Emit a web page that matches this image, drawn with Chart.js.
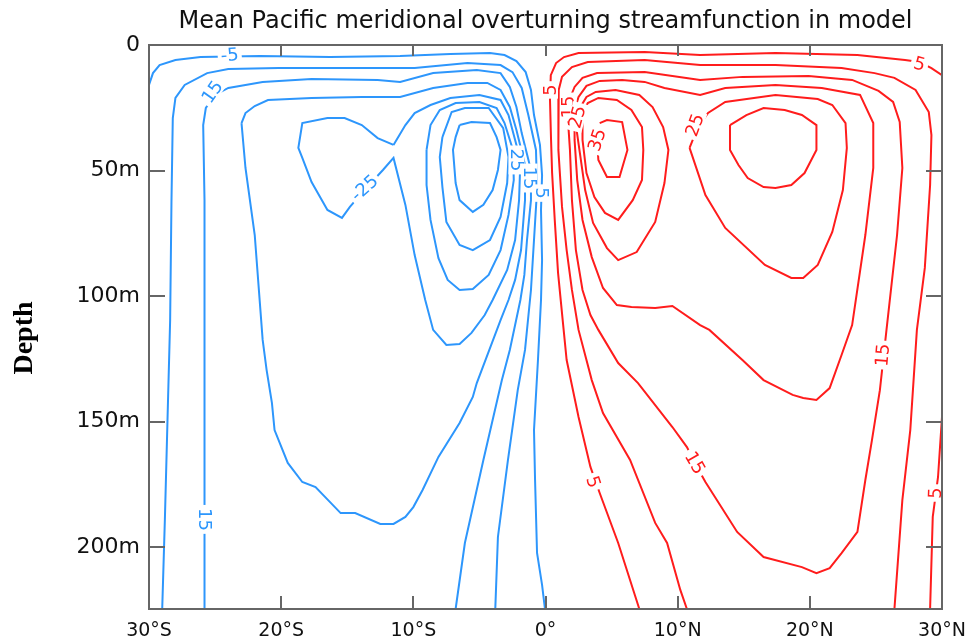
<!DOCTYPE html>
<html>
<head>
<meta charset="utf-8">
<script src="https://cdn.jsdelivr.net/npm/chart.js@4.4.0/dist/chart.umd.min.js"></script>
<style>
  html, body { margin: 0; padding: 0; background: #fff; }
</style>
</head>
<body>
<canvas id="myChart" width="966" height="641"></canvas>
<script>
// axis ticks
const xTicks = [-30, -20, -10, 0, 10, 20, 30];
const yTicks = [0, 50, 100, 150, 200];
const depthMax = 224.7;

// contour lines, [latitude, depth in m]
// blue = negative streamfunction (southern cell)
const blueM5 = [[-30,15.9],[-29.7,11.2],[-29.2,8.0],[-28.0,6.0],[-26.1,4.8],[-21.6,4.4],[-16.3,4.8],[-11.0,4.4],[-7.2,3.6],[-4.2,3.2],[-3.1,4.0],[-2.2,6.4],[-1.5,10.8],[-1.1,17.9],[-0.87,27.9],[-0.42,39.8],[-0.26,51.8],[-0.34,65.7],[-0.26,85.7],[-0.34,101.6],[-0.57,125.5],[-0.87,153.4],[-0.79,173.3],[-0.64,202.4],[-0.26,215.1],[-0.04,224.7]];
const blueM10 = [[-29.0,224.7],[-28.8,189.2],[-28.6,149.4],[-28.4,109.6],[-28.3,62.5],[-28.2,29.1],[-28.0,21.1],[-27.3,15.9],[-25.6,11.2],[-24.0,9.6],[-20.2,9.2],[-15.2,9.2],[-9.9,9.2],[-5.9,7.2],[-3.4,8.0],[-2.5,10.8],[-1.8,17.1],[-1.3,27.9],[-0.72,41.8],[-0.64,57.8],[-0.87,77.7],[-1.1,97.6],[-1.55,121.5],[-2.1,137.5],[-2.84,165.3],[-3.6,196.0],[-3.8,224.7]];
const blueM15 = [[-25.8,224.7],[-25.8,197.2],[-25.8,173.3],[-25.8,136.3],[-25.8,109.6],[-25.8,61.8],[-25.9,31.9],[-25.7,25.1],[-25.0,19.9],[-24.0,17.1],[-21.4,14.7],[-17.7,13.5],[-12.7,13.9],[-11.0,14.7],[-8.5,11.2],[-5.2,10.0],[-3.4,11.2],[-2.7,16.7],[-2.2,24.7],[-1.8,35.1],[-1.1,49.8],[-1.1,61.8],[-1.4,77.7],[-1.6,91.6],[-1.9,101.6],[-2.7,121.5],[-3.3,133.5],[-4.7,165.3],[-6.1,198.4],[-6.8,224.7]];
const blueM20 = [[-23.0,31.1],[-22.7,27.1],[-22.0,24.3],[-21.0,21.9],[-17.7,21.1],[-13.9,20.7],[-11.0,20.7],[-8.5,17.1],[-5.9,15.1],[-4.4,15.1],[-3.4,17.9],[-2.7,24.7],[-2.2,33.9],[-1.55,47.8],[-1.55,61.8],[-1.85,81.7],[-2.3,93.6],[-2.8,101.6],[-3.4,109.6],[-5.2,134.7],[-5.5,140.2],[-6.5,150.6],[-8.1,164.1],[-9.3,177.3],[-10.0,184.1],[-10.6,188.0],[-11.5,190.8],[-12.5,190.8],[-14.4,186.5],[-15.5,186.5],[-17.4,176.1],[-18.4,174.1],[-19.5,166.5],[-20.5,153.4],[-20.7,142.6],[-21.1,129.5],[-21.4,117.5],[-22.0,75.7],[-22.7,49.0],[-23.0,31.1]];
const blueM25 = [[-11.5,39.8],[-10.6,31.9],[-9.9,27.1],[-8.7,23.9],[-7.2,21.1],[-5.0,19.9],[-3.4,21.9],[-2.8,27.9],[-2.4,35.9],[-1.9,45.8],[-2.0,61.8],[-2.3,77.7],[-2.9,89.6],[-4.0,101.6],[-4.6,107.6],[-5.6,114.7],[-6.5,119.1],[-7.5,119.5],[-8.5,113.5],[-9.1,101.6],[-9.9,83.7],[-10.6,63.7],[-11.5,45.0],[-12.3,49.8],[-13.7,57.8],[-14.8,64.5],[-15.4,68.9],[-16.5,65.7],[-17.7,54.6],[-18.4,45.0],[-18.7,41.0],[-18.4,31.1],[-16.5,29.1],[-15.2,29.1],[-13.9,31.9],[-12.7,37.1],[-11.5,39.8]];
const blueM30 = [[-9.0,41.8],[-8.7,31.9],[-8.0,25.9],[-6.8,23.1],[-5.0,22.7],[-3.7,25.1],[-3.1,31.1],[-2.46,41.8],[-2.4,53.8],[-2.8,67.7],[-3.4,81.7],[-4.3,91.6],[-5.5,97.2],[-6.5,97.6],[-7.4,93.6],[-8.1,84.9],[-8.7,69.7],[-9.0,55.8],[-9.0,41.8]];
const blueM35 = [[-7.8,36.7],[-7.1,26.7],[-6.1,25.1],[-4.3,25.1],[-3.2,33.1],[-2.8,44.6],[-2.9,55.0],[-3.4,68.5],[-4.2,77.7],[-5.5,81.7],[-6.5,79.7],[-7.5,70.5],[-7.8,56.6],[-8.0,44.6],[-7.8,36.7]];
const blueM40 = [[-6.5,31.9],[-5.6,30.7],[-4.2,31.1],[-3.7,36.7],[-3.4,41.8],[-3.6,49.8],[-4.0,57.8],[-4.7,63.7],[-5.5,66.5],[-6.5,61.8],[-6.8,55.0],[-7.0,41.8],[-6.8,36.7],[-6.5,31.9]];

// red = positive streamfunction (northern cell)
const red5 = [[30,12.0],[29.2,9.2],[28.3,6.8],[27.2,6.0],[23.6,4.0],[17.4,3.2],[11.7,4.0],[7.5,2.8],[2.5,3.2],[1.4,4.8],[0.8,7.2],[0.4,12.0],[0.34,21.9],[0.42,37.8],[0.5,51.0],[0.7,69.7],[0.95,90.8],[1.3,109.6],[1.6,125.5],[2.5,148.2],[3.4,168.1],[4.1,178.5],[5.5,198.4],[7.1,224.7]];
const red5b = [[30,148.2],[29.7,172.1],[29.3,188.0],[29.1,224.7]];
const red10 = [[26.4,224.7],[27.0,181.3],[27.6,153.4],[28.1,113.5],[28.7,88.8],[29.1,55.8],[29.2,35.9],[29.0,26.7],[28.0,17.9],[26.4,13.1],[24.9,11.2],[22.4,9.2],[17.4,8.0],[11.7,8.0],[7.5,6.0],[3.2,6.8],[2.0,8.8],[1.25,12.7],[1.0,17.9],[0.95,25.9],[1.0,41.8],[1.25,64.5],[1.6,81.7],[2.0,97.6],[2.5,113.5],[3.5,133.5],[4.35,146.6],[6.4,165.3],[8.3,190.4],[9.2,198.4],[10.2,217.1],[10.7,224.7]];
const red15 = [[1.7,29.9],[1.8,21.9],[2.2,16.7],[2.8,13.1],[3.9,11.2],[7.5,10.8],[11.7,13.9],[14.9,12.7],[19.9,12.4],[23.2,13.9],[25.2,18.3],[26.3,22.7],[26.8,30.7],[27.0,49.0],[26.6,75.7],[25.8,113.5],[25.3,137.5],[24.7,157.4],[24.2,173.3],[23.6,194.0],[22.4,202.4],[21.5,208.4],[20.5,210.4],[19.4,208.0],[16.5,204.0],[14.5,194.0],[12.1,174.1],[11.3,166.5],[10.7,160.2],[9.6,152.2],[7.0,134.7],[5.5,126.7],[4.0,113.5],[3.4,107.6],[2.8,97.6],[2.3,81.7],[2.0,61.8],[1.85,41.8],[1.7,29.9]];
const red20 = [[2.2,25.9],[2.5,20.7],[3.1,16.3],[4.1,14.3],[5.8,13.9],[7.5,14.7],[9.0,17.1],[11.7,19.9],[13.6,17.1],[17.4,15.9],[20.9,17.1],[23.8,19.9],[24.8,31.1],[24.8,49.0],[24.2,75.7],[23.2,111.6],[22.4,123.5],[21.5,136.7],[20.5,141.4],[19.5,140.6],[18.7,139.4],[16.5,133.5],[14.9,125.5],[12.4,113.5],[11.7,111.6],[9.6,104.0],[8.3,104.8],[6.5,104.4],[5.4,103.6],[4.35,96.8],[3.5,84.5],[2.8,69.7],[2.4,53.8],[2.2,37.8],[2.2,25.9]];
const red25w = [[2.3,31.9],[2.6,25.1],[3.1,20.7],[3.8,18.7],[5.3,17.9],[7.1,19.9],[8.1,24.7],[8.9,32.7],[9.3,41.8],[9.0,55.0],[8.3,70.5],[6.9,82.5],[5.5,85.7],[4.65,80.9],[3.6,70.9],[3.0,57.8],[2.6,43.0],[2.3,31.9]];
const red30w = [[2.8,27.1],[3.2,23.1],[4.0,21.1],[5.4,21.9],[6.5,25.9],[7.3,32.7],[7.4,41.8],[7.3,53.8],[6.6,61.8],[5.5,69.7],[4.5,66.9],[3.7,60.6],[3.1,51.0],[2.8,37.8],[2.8,27.1]];
const red35 = [[4.1,31.1],[4.65,29.9],[5.8,30.7],[6.2,41.8],[5.6,52.6],[4.65,52.6],[4.0,45.8],[3.9,37.8]];
const red25e = [[10.9,41.0],[11.5,33.1],[12.3,27.1],[13.6,22.7],[17.4,19.9],[20.6,21.5],[21.7,23.9],[22.7,31.1],[22.8,41.0],[22.5,57.8],[21.7,74.5],[20.6,87.6],[19.5,92.8],[18.6,92.8],[16.6,87.6],[13.6,72.9],[12.1,59.8],[10.9,41.0]];
const red30e = [[13.96,31.9],[15.2,27.9],[16.5,25.1],[18.1,25.9],[19.4,27.9],[20.5,31.9],[20.5,41.8],[19.6,51.0],[18.6,55.8],[17.4,57.0],[16.5,56.6],[15.3,53.0],[14.6,47.8],[13.96,41.8],[13.96,31.9]];

const blueLines = [blueM5, blueM10, blueM15, blueM20, blueM25, blueM30, blueM35, blueM40];
const redLines = [red5, red5b, red10, red15, red20, red25w, red30w, red35, red25e, red30e];

// contour labels
const labelText  = ['-5', '15', '-25', '15', '25', '15', '5', '5', '15', '25', '35', '25', '5', '15', '15', '5', '5'];
const labelSign  = [-1, -1, -1, -1, -1, -1, -1, 1, 1, 1, 1, 1, 1, 1, 1, 1, 1];
const labelLat   = [-23.9, -25.2, -13.7, -25.8, -2.2, -1.2, -0.3, 0.34, 1.75, 2.4, 3.9, 11.3, 28.3, 25.5, 11.3, 3.6, 29.5];
const labelDepth = [4.0, 18.7, 57.0, 189.0, 45.8, 53.0, 59.0, 17.9, 24.7, 28.7, 37.8, 31.9, 7.6, 123.5, 166.5, 174.1, 178.5];

const BLUE = 'rgb(45,150,252)';
const RED = 'rgb(255,28,28)';
const labelAngle = [-5, -55, -42, 90, 90, 90, 90, -90, -90, -75, -72, -70, 15, -85, 60, 72, -88];

const toPts = line => line.map(p => ({x: p[0], y: p[1]}));

const datasets = [];
blueLines.forEach(l => datasets.push({data: toPts(l), borderColor: BLUE}));
redLines.forEach(l => datasets.push({data: toPts(l), borderColor: RED}));

const contourLabels = {
    id: 'contourLabels',
    afterDatasetsDraw(chart){
        const {ctx, scales: {x, y}} = chart;
        ctx.save();
        ctx.font = '18px "DejaVu Sans"';
        ctx.textAlign = 'center';
        ctx.textBaseline = 'middle';
        labelText.forEach((t, i) => {
            const px = x.getPixelForValue(labelLat[i]);
            const py = y.getPixelForValue(labelDepth[i]);
            ctx.save();
            ctx.translate(px, py);
            ctx.rotate(labelAngle[i] * Math.PI / 180);
            const w = ctx.measureText(t).width;
            ctx.fillStyle = '#fff';
            ctx.fillRect(-w / 2 - 3, -8, w + 6, 16);
            ctx.fillStyle = labelSign[i] < 0 ? BLUE : RED;
            ctx.fillText(t, 0, 1);
            ctx.restore();
        });
        ctx.restore();
    }
};

const frame = {
    id: 'frame',
    afterDraw(chart){
        const {ctx, chartArea: a, scales: {x, y}} = chart;
        ctx.save();
        ctx.strokeStyle = '#666';
        ctx.lineWidth = 2;
        ctx.strokeRect(a.left, a.top, a.right - a.left, a.bottom - a.top);
        ctx.beginPath();
        xTicks.forEach(v => {
            const px = Math.round(x.getPixelForValue(v));
            ctx.moveTo(px, a.bottom); ctx.lineTo(px, a.bottom - 13);
            ctx.moveTo(px, a.top); ctx.lineTo(px, a.top + 11);
        });
        yTicks.forEach(v => {
            const py = Math.round(y.getPixelForValue(v));
            ctx.moveTo(a.left, py); ctx.lineTo(a.left + 16, py);
            ctx.moveTo(a.right, py); ctx.lineTo(a.right - 16, py);
        });
        ctx.stroke();

        // title and y axis name
        ctx.fillStyle = '#111';
        ctx.textAlign = 'center';
        ctx.textBaseline = 'middle';
        ctx.font = '24px "DejaVu Sans"';
        ctx.fillText('Mean Pacific meridional overturning streamfunction in model', (a.left + a.right) / 2, 22);
        ctx.save();
        ctx.translate(25, 338);
        ctx.rotate(-Math.PI / 2);
        ctx.font = 'bold 28px "Liberation Serif"';
        ctx.fillStyle = '#000';
        ctx.fillText('Depth', 0, 0);
        ctx.restore();
        ctx.restore();
    }
};

const ctx = document.querySelector('#myChart').getContext('2d');
const myChart = new Chart(ctx, {
    type: 'scatter',
    data: { datasets: datasets },
    options: {
        responsive: false,
        animation: false,
        showLine: true,
        layout: { padding: { top: 45, right: 24, left: 0, bottom: 0 } },
        elements: {
            point: { radius: 0, hoverRadius: 0 },
            line: { borderWidth: 2, tension: 0, fill: false }
        },
        plugins: {
            legend: { display: false },
            tooltip: { enabled: false }
        },
        scales: {
            x: {
                type: 'linear',
                min: -30,
                max: 30,
                grid: { display: false, drawTicks: false },
                border: { display: false },
                afterBuildTicks: s => { s.ticks = xTicks.map(v => ({value: v})); },
                afterFit: s => { s.height = 32; s.paddingLeft = 0; s.paddingRight = 0; },
                ticks: {
                    color: '#111',
                    padding: 11,
                    maxRotation: 0,
                    font: { family: 'DejaVu Sans', size: 19 },
                    callback: v => v < 0 ? (-v) + '°S' : (v > 0 ? v + '°N' : '0°')
                }
            },
            y: {
                type: 'linear',
                reverse: true,
                min: 0,
                max: depthMax,
                grid: { display: false, drawTicks: false },
                border: { display: false },
                afterBuildTicks: s => { s.ticks = yTicks.map(v => ({value: v})); },
                afterFit: s => { s.width = 149; s.paddingTop = 0; s.paddingBottom = 0; },
                ticks: {
                    color: '#111',
                    padding: 9,
                    font: { family: 'DejaVu Sans', size: 22 },
                    callback: v => v === 0 ? '0' : v + 'm'
                }
            }
        }
    },
    plugins: [contourLabels, frame]
});
</script>
</body>
</html>
